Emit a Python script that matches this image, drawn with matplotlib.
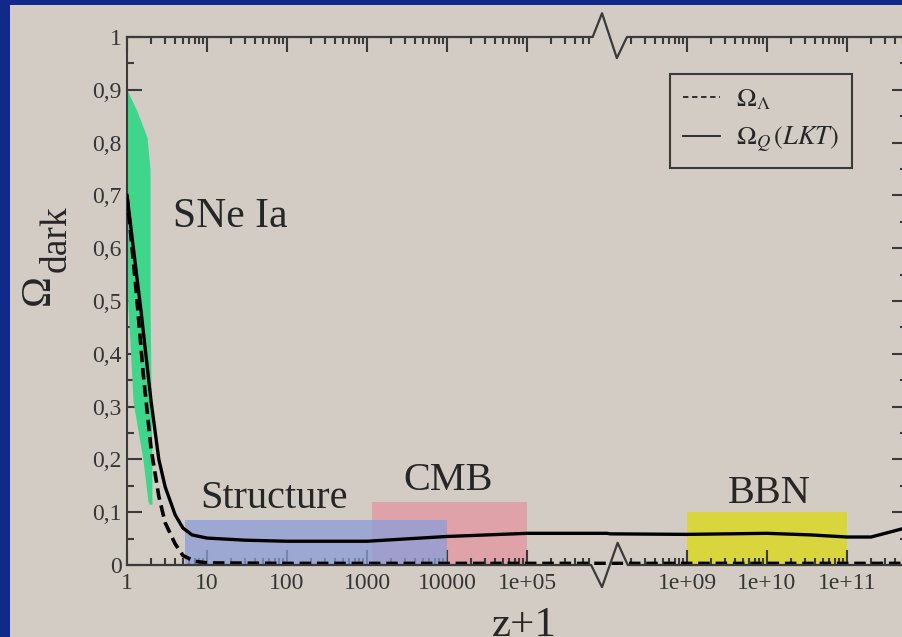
import numpy as np
import matplotlib.pyplot as plt
from matplotlib.lines import Line2D
from matplotlib.patches import Rectangle

plt.rcParams['font.family'] = ['Liberation Serif', 'DejaVu Serif']
plt.rcParams['mathtext.fontset'] = 'stix'

# Omega_Q (LKT) tracking quintessence
zq = [1, 1.5, 2, 2.5, 3, 4, 5, 6.5, 10, 30, 100, 1e3, 1e4, 1e5, 1e6,
      1e8, 1e9, 1e10, 3.5e10, 1e11, 2e11, 6e11]
omega_q = [0.70, 0.48, 0.31, 0.20, 0.148, 0.095, 0.07, 0.057, 0.051, 0.047,
           0.045, 0.045, 0.054, 0.060, 0.060, 0.059, 0.058, 0.060, 0.057,
           0.053, 0.053, 0.072]

# Omega_Lambda
zl = [1, 1.3, 1.6, 2, 2.5, 3, 4, 5, 7, 10, 100, 1e5, 1e8, 6e11]
omega_l = [0.70, 0.52, 0.36, 0.22, 0.13, 0.08, 0.04, 0.018, 0.007, 0.004,
           0.003, 0.003, 0.003, 0.003]

# SNe Ia band (left / right edge in z+1 for each Omega)
sne_y = [0.115, 0.12, 0.2, 0.31, 0.41, 0.5, 0.75, 0.81, 0.86, 0.90]
sne_left = [1.9, 1.83, 1.58, 1.19, 1.1, 1.02, 1.0, 1.0, 1.0, 1.0]
sne_right = [2.05, 2.05, 2.05, 2.0, 1.97, 1.94, 1.94, 1.78, 1.33, 1.0]

# probe boxes: z+1 range and height
struct_x = [5.3, 1e4]
struct_h = 0.085
cmb_x = [1150, 1e5]
cmb_h = 0.12
bbn_x = [1e9, 1e11]
bbn_h = 0.10

xticks = [1, 10, 100, 1e3, 1e4, 1e5, 1e9, 1e10, 1e11]
xlabels = ['1', '10', '100', '1000', '10000', '1e+05', '1e+09', '1e+10', '1e+11']
yticks = [0, 0.1, 0.2, 0.3, 0.4, 0.5, 0.6, 0.7, 0.8, 0.9, 1.0]
ylabels = ['0', '0,1', '0,2', '0,3', '0,4', '0,5', '0,6', '0,7', '0,8', '0,9', '1']

BREAK = 6.04
GAP = 2.0


def fwd(x):
    lx = np.log10(np.clip(np.asarray(x, dtype=float), 1e-300, None))
    return np.where(lx <= BREAK, lx, np.where(lx < BREAK + GAP, BREAK, lx - GAP))


def inv(u):
    u = np.asarray(u, dtype=float)
    return np.where(u <= BREAK, 10.0 ** u, 10.0 ** (u + GAP))


bg = '#d2ccc4'
ink = '#3a3a3a'
W, H = 903, 637

fig = plt.figure(figsize=(W / 100, H / 100), dpi=100, facecolor='#13298a')
fig.add_artist(Rectangle((10 / W, 0), 1, 1 - 5 / H, transform=fig.transFigure,
                         facecolor=bg, edgecolor='none', zorder=-10))

ax = fig.add_axes([127 / W, 72 / H, 780 / W, 528 / H])
ax.set_facecolor('none')
ax.set_xscale('function', functions=(fwd, inv))
ax.set_xlim(1, 10 ** 11.75)
ax.set_ylim(0, 1)

# probe regions
ax.fill_between(cmb_x, 0, cmb_h, color='#e0a2a9', lw=0, zorder=1)
ax.fill_between(struct_x, 0, struct_h, color='#8a9dd8', alpha=0.75, lw=0, zorder=2)
ax.fill_between(bbn_x, 0, bbn_h, color='#d9d53c', lw=0, zorder=1)
ax.fill_betweenx(sne_y, sne_left, sne_right, color='#3fd68c', lw=0, zorder=2)

ax.plot(zl, omega_l, color='black', lw=2.6, dashes=(3.2, 1.6), zorder=4)
ax.plot(zq, omega_q, color='black', lw=2.4, zorder=4)

# ticks
minor = []
for d in range(0, 12):
    for m in range(2, 10):
        v = m * 10.0 ** d
        u = fwd(v)
        if (u < 5.8 or (d >= 8 and u > 6.25)) and u < 9.75:
            minor.append(v)
ax.set_xticks(xticks, xlabels)
ax.set_xticks(minor, minor=True)
ax.set_yticks(yticks, ylabels)
ax.set_yticks(np.arange(0.05, 1.0, 0.1), minor=True)
ax.tick_params(which='both', direction='in', top=True, right=True,
               color=ink, width=1.5, labelsize=17, labelcolor='#353535')
ax.tick_params(which='major', length=11)
ax.tick_params(which='minor', length=5)
ax.tick_params(axis='x', pad=6)
ax.tick_params(axis='y', pad=4)

for s in ['left', 'right']:
    ax.spines[s].set_color(ink)
    ax.spines[s].set_linewidth(1.5)
ax.spines['top'].set_visible(False)
ax.spines['bottom'].set_visible(False)

# broken axis lines with zigzag
ax.plot([0, 0.595, 0.609, 0.629, 0.642, 1], [0, 0, -0.042, 0.042, 0, 0],
        transform=ax.transAxes, color=ink, lw=1.6, clip_on=False, zorder=5)
ax.plot([0, 0.597, 0.609, 0.628, 0.641, 1], [1, 1, 1.045, 0.96, 1, 1],
        transform=ax.transAxes, color=ink, lw=1.6, clip_on=False, zorder=5)

# labels on the probes
tc = '#262626'
ax.text(3.76, 0.641, 'SNe Ia', fontsize=30, color=tc, va='baseline')
ax.text(8.2, 0.108, 'Structure', fontsize=29, color=tc, va='baseline')
ax.text(2820, 0.142, 'CMB', fontsize=29, color=tc, va='baseline')
ax.text(10 ** 9.51, 0.118, 'BBN', fontsize=29, color=tc, va='baseline')

# axis titles
fig.text(39 / W, 1 - 290 / H, '\u03a9', fontsize=30, rotation=90,
         ha='center', va='center', color=tc)
fig.text(56 / W, 1 - 239 / H, 'dark', fontsize=27, rotation=90,
         ha='center', va='center', color=tc)
fig.text(524 / W, 1 - 636 / H, 'z+1', fontsize=31, ha='center',
         va='baseline', color=tc)

handles = [Line2D([], [], color='#222', lw=1.3, dashes=(3, 2)),
           Line2D([], [], color='#222', lw=1.3)]
leg = ax.legend(handles, [r'$\Omega_\Lambda$', r'$\Omega_Q\,(LKT)$'],
                loc='upper left', bbox_to_anchor=(670 / W, 1 - 74 / H),
                bbox_transform=fig.transFigure, borderaxespad=0,
                fontsize=19, frameon=True, fancybox=False, framealpha=1,
                facecolor=bg, edgecolor=ink, handlelength=1.4,
                handletextpad=0.6, labelspacing=0.5, borderpad=0.5)
leg.get_frame().set_linewidth(1.5)
for t in leg.get_texts():
    t.set_color(tc)

plt.savefig('out.png', dpi=100, facecolor=fig.get_facecolor())
